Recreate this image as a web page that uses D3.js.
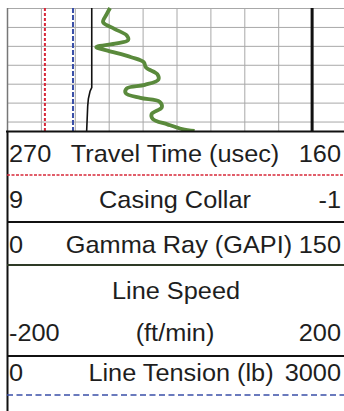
<!DOCTYPE html>
<html>
<head>
<meta charset="utf-8">
<script src="https://cdn.jsdelivr.net/npm/d3@7"></script>
<style>
  html, body { margin: 0; padding: 0; background: #fff; }
  svg { display: block; }
  text { font-family: "Liberation Sans", Arial, sans-serif; fill: #1e1e1e; }
</style>
</head>
<body>
<svg id="log" width="344" height="411"></svg>
<script>
// Depth window shown in the log track (ft)
const depthRange = [4700, 4765];

// Gamma ray curve (GAPI) by depth
const gammaDepth = [4700, 4703.5, 4707.5, 4711, 4714.5, 4717, 4718.7, 4720.7, 4722.5, 4726, 4728.6, 4731.5,
                    4735, 4737.8, 4740.6, 4742.5, 4745, 4747.5, 4749.5, 4752.5, 4756, 4758.6, 4761.5, 4764, 4765];
const gammaValue = [45.6, 44.0, 42.5, 47.5, 53.0, 53.6, 48.5, 39.5, 44.5, 55.0, 60.5, 61.5,
                    66.5, 67.0, 61.0, 53.0, 52.5, 59.0, 67.5, 68.5, 64.0, 64.5, 71.0, 77.5, 83.0];

// Casing collar locator by depth
const collarDepth = [4700, 4742, 4744, 4748, 4752, 4765];
const collarValue = [6.5, 6.5, 6.55, 6.6, 6.62, 6.65];

// Constant-valued curves over the window
const travelTime = 257.7;   // usec
const lineTension = 584;    // lb
const lineSpeed = 160;      // ft/min

// Legend rows: curve name, left and right scale limits
const curveNames = ["Travel Time (usec)", "Casing Collar", "Gamma Ray (GAPI)", "Line Speed", "Line Tension (lb)"];
const scaleLeft  = ["270", "9", "0", "-200", "0"];
const scaleRight = ["160", "-1", "150", "200", "3000"];
const scaleDomains = [[270, 160], [9, -1], [0, 150], [-200, 200], [0, 3000]];

const svg = d3.select("#log");
const trackLeft = 7, trackRight = 346, trackTop = 8, trackBottom = 131;

const y = d3.scaleLinear().domain(depthRange).range([trackTop, trackBottom]);
const grid = d3.scaleLinear().domain([0, 10]).range([trackLeft, trackRight]);
const xScale = scaleDomains.map(d => d3.scaleLinear().domain(d).range([trackLeft, trackRight]));
const [xTT, xCCL, xGR, xLS, xLT] = xScale;

const track = svg.append("g");

// Horizontal depth grid every 10 ft
track.append("g").selectAll("line")
  .data(d3.range(depthRange[0], depthRange[1], 10))
  .join("line")
  .attr("x1", trackLeft).attr("x2", 344)
  .attr("y1", d => y(d) + 0.5).attr("y2", d => y(d) + 0.5)
  .attr("stroke", "#a8a8a8").attr("stroke-width", 1);

// Vertical linear grid, ten divisions
track.append("g").selectAll("line")
  .data(d3.range(0, 10))
  .join("line")
  .attr("x1", d => grid(d) + 0.5).attr("x2", d => grid(d) + 0.5)
  .attr("y1", trackTop).attr("y2", trackBottom)
  .attr("stroke", d => d === 0 ? "#777" : "#a8a8a8").attr("stroke-width", d => d === 0 ? 1.5 : 1);

// Travel time (red, short dashes)
track.append("line")
  .attr("x1", xTT(travelTime)).attr("x2", xTT(travelTime))
  .attr("y1", y(depthRange[0])).attr("y2", y(depthRange[1]))
  .attr("stroke", "#d8283a").attr("stroke-width", 2).attr("stroke-dasharray", "3,2");

// Line tension (blue dashes)
track.append("line")
  .attr("x1", xLT(lineTension)).attr("x2", xLT(lineTension))
  .attr("y1", y(depthRange[0])).attr("y2", y(depthRange[1]))
  .attr("stroke", "#3a4fa8").attr("stroke-width", 2).attr("stroke-dasharray", "5,2");

// Casing collar (thin black)
track.append("path")
  .datum(d3.zip(collarDepth, collarValue))
  .attr("fill", "none").attr("stroke", "#111").attr("stroke-width", 1.6)
  .attr("d", d3.line().x(d => xCCL(d[1])).y(d => y(d[0])));

// Line speed (heavy black)
track.append("line")
  .attr("x1", xLS(lineSpeed)).attr("x2", xLS(lineSpeed))
  .attr("y1", y(depthRange[0])).attr("y2", y(depthRange[1]))
  .attr("stroke", "#111").attr("stroke-width", 3);

// Gamma ray (green)
track.append("path")
  .datum(d3.zip(gammaDepth, gammaValue))
  .attr("fill", "none").attr("stroke", "#5a8a3c").attr("stroke-width", 3.8)
  .attr("stroke-linejoin", "round")
  .attr("d", d3.line().curve(d3.curveCatmullRom.alpha(0.5)).x(d => xGR(d[1])).y(d => y(d[0])));

// Legend header
const head = svg.append("g");
head.append("rect").attr("x", trackLeft).attr("y", trackBottom).attr("width", 344 - trackLeft).attr("height", 411 - trackBottom)
  .attr("fill", "#fff");
head.append("line").attr("x1", trackLeft - 1).attr("x2", 344).attr("y1", trackBottom + 0.5).attr("y2", trackBottom + 0.5)
  .attr("stroke", "#111").attr("stroke-width", 2.2);
head.append("line").attr("x1", trackLeft + 0.5).attr("x2", trackLeft + 0.5).attr("y1", trackBottom).attr("y2", 411)
  .attr("stroke", "#111").attr("stroke-width", 2);

// separators under each legend row, drawn in the curve's style
const sepY = [175, 222, 265, 356, 395];
const sepStyle = [
  { c: "#d8283a", w: 1.4, dash: "3,1.5" },
  { c: "#111", w: 2, dash: null },
  { c: "#2e3a26", w: 2, dash: null },
  { c: "#111", w: 2, dash: null },
  { c: "#3a4fa8", w: 1.5, dash: "6,3.5" }
];
head.selectAll("line.sep").data(sepY).join("line").attr("class", "sep")
  .attr("x1", trackLeft).attr("x2", 344)
  .attr("y1", d => d).attr("y2", d => d)
  .attr("stroke", (d, i) => sepStyle[i].c)
  .attr("stroke-width", (d, i) => sepStyle[i].w)
  .attr("stroke-dasharray", (d, i) => sepStyle[i].dash);

// text: slightly widened glyphs, as in the printed log header
const fs = 24, stretch = 1.055;
const nameY = [162, 208, 253, 299, 381];
const limitY = [162, 208, 253, 341, 381];
const nameX = [175, 175, 179, 176, 181];
const nameLines = curveNames.map(n => n === "Line Speed" ? ["Line Speed", "(ft/min)"] : [n]);

function label(x, yb, anchor, s) {
  head.append("text")
    .attr("transform", `translate(${x},${yb}) scale(${stretch},1)`)
    .attr("text-anchor", anchor).attr("font-size", fs).text(s);
}

curveNames.forEach((n, i) => {
  label(nameX[i], nameY[i], "middle", nameLines[i][0]);
  if (nameLines[i].length > 1) label(nameX[i] - 1, limitY[i], "middle", nameLines[i][1]);
  label(9, limitY[i], "start", scaleLeft[i]);
  label(341, limitY[i], "end", scaleRight[i]);
});
</script>
</body>
</html>
